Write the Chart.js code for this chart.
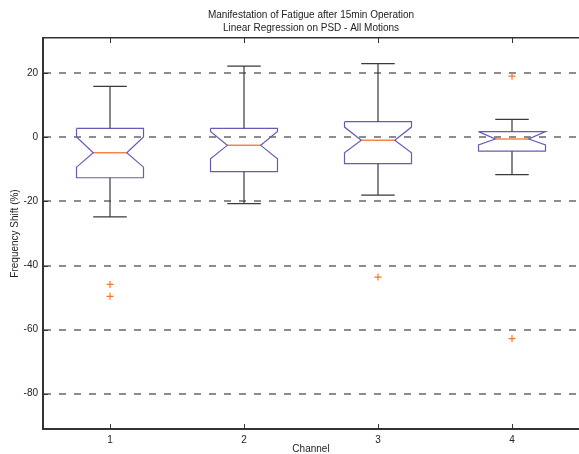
<!DOCTYPE html>
<html>
<head>
<meta charset="utf-8">
<title>Manifestation of Fatigue after 15min Operation</title>
<script src="https://cdn.jsdelivr.net/npm/chart.js@4/dist/chart.umd.min.js"></script>
<style>
  html, body { margin: 0; padding: 0; background: #fff; }
  canvas { display: block; }
</style>
</head>
<body>
<canvas id="boxChart" width="579" height="454"></canvas>
<script>
// values, one entry per channel
const channels = [1, 2, 3, 4];
const channelLabels = ["1", "2", "3", "4"];
const lowerWhisker = [-24.8, -20.7, -18.0, -11.6];
const q1 = [-12.6, -10.7, -8.2, -4.3];
const median = [-4.8, -2.5, -0.9, -0.5];
const q3 = [2.8, 2.8, 4.9, 1.8];
const upperWhisker = [15.9, 22.2, 23.0, 5.6];
const notchLow = [-9.3, -6.7, -4.8, -2.4];
const notchHigh = [0.1, 1.8, 3.2, 1.8];

const outlierChannel = [1, 1, 3, 4, 4];
const outlierValue = [-45.9, -49.6, -43.6, 19.1, -62.8];

const yTicks = [-80, -60, -40, -20, 0, 20];

const BOX_HALF = 0.25;
const NOTCH_HALF = 0.125;
const CAP_HALF = 0.125;
const FONT = { family: "'Liberation Sans', Arial, sans-serif", size: 10 };

// notched box outlines, one closed path per channel, separated by gaps
const boxPts = [];
const medianPts = [];
const whiskerPts = [];
channels.forEach((c, i) => {
  boxPts.push(
    { x: c - BOX_HALF, y: q3[i] }, { x: c + BOX_HALF, y: q3[i] },
    { x: c + BOX_HALF, y: notchHigh[i] }, { x: c + NOTCH_HALF, y: median[i] },
    { x: c + BOX_HALF, y: notchLow[i] }, { x: c + BOX_HALF, y: q1[i] },
    { x: c - BOX_HALF, y: q1[i] }, { x: c - BOX_HALF, y: notchLow[i] },
    { x: c - NOTCH_HALF, y: median[i] }, { x: c - BOX_HALF, y: notchHigh[i] },
    { x: c - BOX_HALF, y: q3[i] }, { x: c, y: null }
  );
  medianPts.push({ x: c - NOTCH_HALF, y: median[i] }, { x: c + NOTCH_HALF, y: median[i] }, { x: c, y: null });
  whiskerPts.push(
    { x: c, y: q3[i] }, { x: c, y: upperWhisker[i] }, { x: c, y: null },
    { x: c - CAP_HALF, y: upperWhisker[i] }, { x: c + CAP_HALF, y: upperWhisker[i] }, { x: c, y: null },
    { x: c, y: q1[i] }, { x: c, y: lowerWhisker[i] }, { x: c, y: null },
    { x: c - CAP_HALF, y: lowerWhisker[i] }, { x: c + CAP_HALF, y: lowerWhisker[i] }, { x: c, y: null }
  );
});
const outlierPts = outlierValue.map((v, i) => ({ x: outlierChannel[i], y: v }));

// matlab style ticks pointing into the plot
const innerTicks = {
  id: "innerTicks",
  afterDraw(chart) {
    const { ctx, chartArea, scales } = chart;
    ctx.save();
    ctx.strokeStyle = "#333";
    ctx.lineWidth = 1;
    ctx.beginPath();
    channels.forEach((c) => {
      const px = Math.round(scales.x.getPixelForValue(c)) + 0.5;
      ctx.moveTo(px, chartArea.bottom);
      ctx.lineTo(px, chartArea.bottom - 5);
      ctx.moveTo(px, chartArea.top);
      ctx.lineTo(px, chartArea.top + 5);
    });
    yTicks.forEach((v) => {
      const py = Math.round(scales.y.getPixelForValue(v)) + 0.5;
      ctx.moveTo(chartArea.left, py);
      ctx.lineTo(chartArea.left + 5, py);
    });
    ctx.stroke();
    ctx.restore();
  },
};

const ctx = document.getElementById("boxChart").getContext("2d");
new Chart(ctx, {
  type: "scatter",
  data: {
    datasets: [
      {
        data: whiskerPts,
        showLine: true,
        borderColor: "#3a3a3a",
        borderWidth: 1.2,
        pointRadius: 0,
        spanGaps: false,
      },
      {
        data: boxPts,
        showLine: true,
        borderColor: "#6a5ab8",
        borderWidth: 1.2,
        pointRadius: 0,
        spanGaps: false,
      },
      {
        data: medianPts,
        showLine: true,
        borderColor: "#f4864c",
        borderWidth: 1.5,
        pointRadius: 0,
        spanGaps: false,
      },
      {
        data: outlierPts,
        showLine: false,
        pointStyle: "cross",
        pointRadius: 3.5,
        borderColor: "#f4782e",
        borderWidth: 1.2,
      },
    ],
  },
  options: {
    responsive: false,
    animation: false,
    devicePixelRatio: 1,
    layout: { padding: 0, autoPadding: false },
    plugins: {
      legend: { display: false },
      tooltip: { enabled: false },
      title: { display: false },
    },
    scales: {
      x: {
        type: "linear",
        position: "bottom",
        min: 0.5,
        max: 4.5,
        afterBuildTicks: (scale) => {
          scale.ticks = channels.map((v) => ({ value: v }));
        },
        afterFit: (scale) => {
          scale.height = 25;
        },
        ticks: {
          color: "#222",
          font: FONT,
          padding: 5,
          maxRotation: 0,
          callback: (v) => channelLabels[channels.indexOf(v)],
        },
        grid: { display: false, drawTicks: false },
        border: { display: true, color: "#333", width: 2 },
        title: {
          display: true,
          text: "Channel",
          color: "#222",
          font: FONT,
          padding: { top: 0, bottom: -1 },
        },
      },
      x2: {
        type: "linear",
        axis: "x",
        position: "top",
        min: 0.5,
        max: 4.5,
        afterFit: (scale) => {
          scale.height = 38;
        },
        ticks: { display: false },
        grid: { display: false, drawTicks: false },
        border: { display: true, color: "#333", width: 1.5 },
        title: {
          display: true,
          text: ["Manifestation of Fatigue after 15min Operation", "Linear Regression on PSD - All Motions"],
          color: "#222",
          font: { family: FONT.family, size: 10, lineHeight: 1.3 },
          padding: { top: 9, bottom: 0 },
        },
      },
      y: {
        type: "linear",
        min: -91,
        max: 31,
        afterBuildTicks: (scale) => {
          scale.ticks = yTicks.map((v) => ({ value: v }));
        },
        afterFit: (scale) => {
          scale.width = 43;
        },
        ticks: { color: "#222", font: FONT, padding: 5 },
        grid: { display: true, drawTicks: false, color: "#8c8c8c", lineWidth: 2 },
        border: { display: true, color: "#333", width: 2, dash: [7, 8] },
        title: {
          display: true,
          text: "Frequency Shift (%)",
          color: "#222",
          font: FONT,
          padding: { top: 9, bottom: 0 },
        },
      },
    },
  },
  plugins: [innerTicks],
});
</script>
</body>
</html>
